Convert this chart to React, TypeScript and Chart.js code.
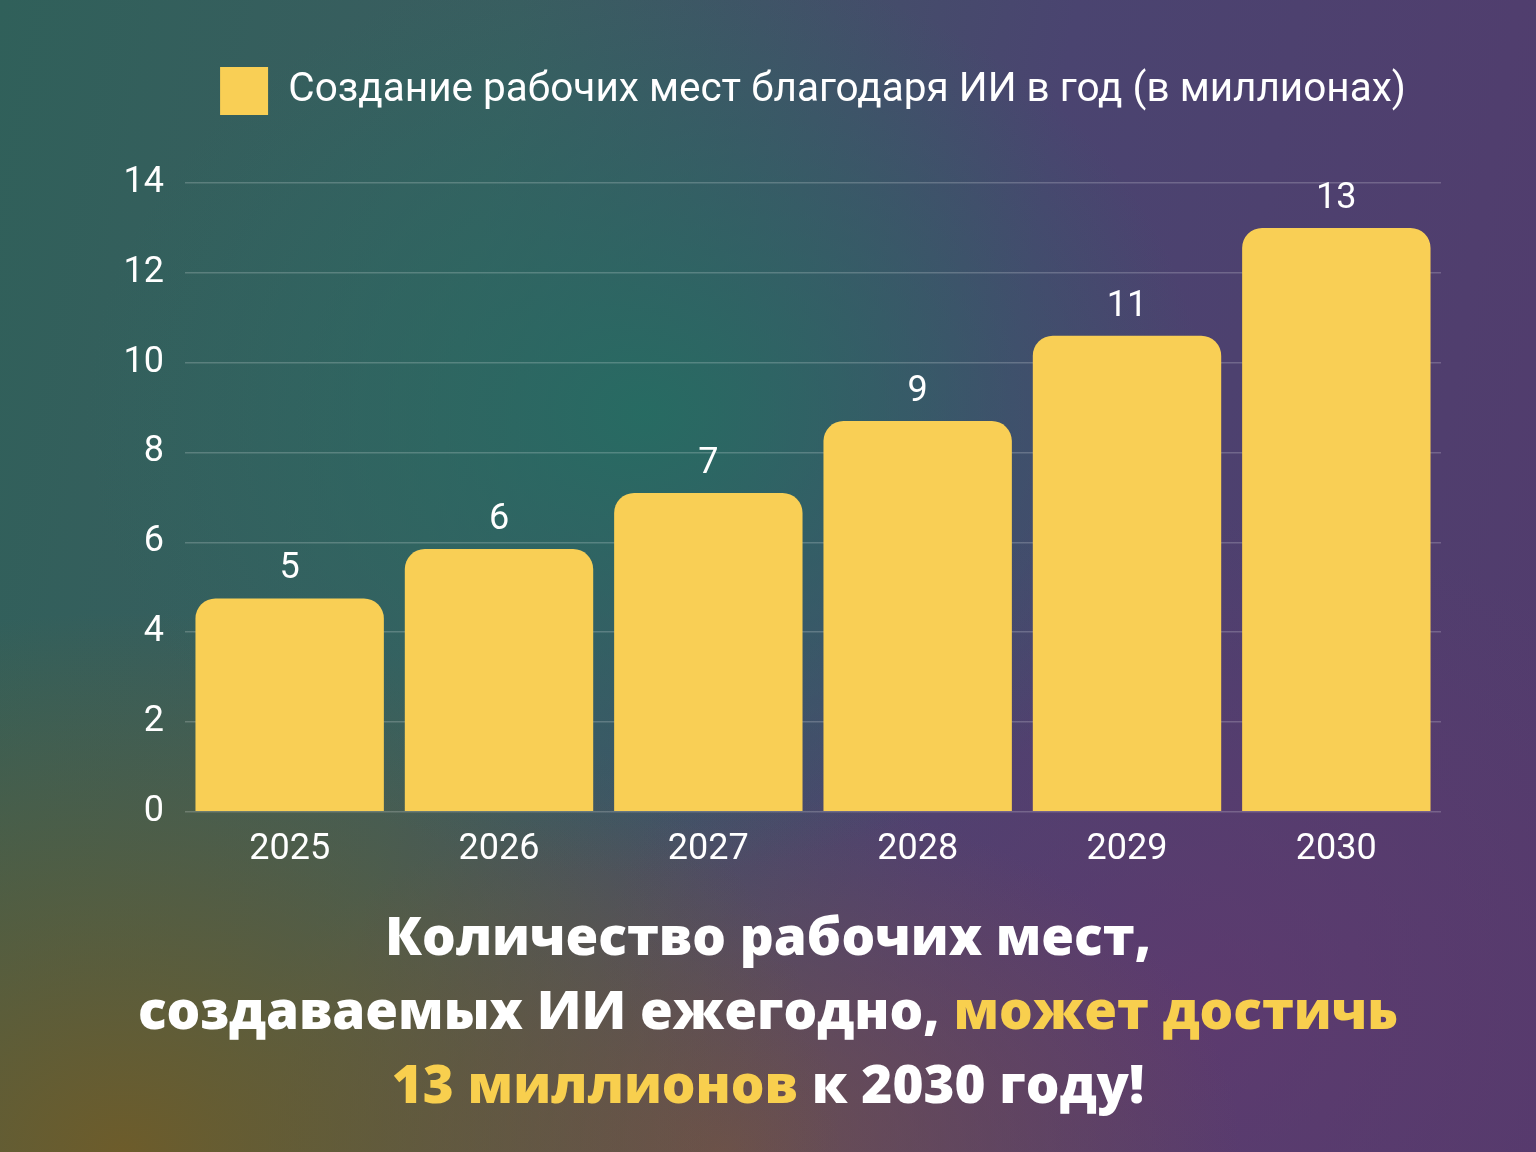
import { useEffect, useRef } from "react"
import { Chart, registerables, type ChartConfiguration, type Plugin } from "chart.js"

Chart.register(...registerables)

const years = ["2025", "2026", "2027", "2028", "2029", "2030"]
// bar heights as drawn (millions), the labels above them are rounded
const jobsCreated = [4.75, 5.85, 7.1, 8.7, 10.6, 13.0]
const barLabels = ["5", "6", "7", "9", "11", "13"]
const yTicks = [0, 2, 4, 6, 8, 10, 12, 14]

const YELLOW = "#F9CF55"
const FONT = "Roboto, 'Noto Sans', sans-serif"

// draws the value labels above each bar
const barLabelPlugin: Plugin<"bar"> = {
  id: "barLabels",
  afterDatasetsDraw(chart) {
    const { ctx } = chart
    const meta = chart.getDatasetMeta(0)
    ctx.save()
    ctx.fillStyle = "#ffffff"
    ctx.font = `400 36px ${FONT}`
    ctx.textAlign = "center"
    ctx.textBaseline = "middle"
    meta.data.forEach((bar, i) => {
      ctx.fillText(barLabels[i], bar.x, bar.y - 29)
    })
    ctx.restore()
  },
}

// gives the legend a fixed height so the plot starts where it should
const legendHeightPlugin: Plugin<"bar"> = {
  id: "legendHeight",
  beforeInit(chart: any) {
    const legend = chart.legend
    if (!legend) return
    const origFit = legend.fit
    legend.fit = function () {
      origFit.call(this)
      this.height = 126
    }
  },
}

export default function App() {
  const chartRef = useRef<HTMLCanvasElement>(null)
  const chartInstance = useRef<Chart | null>(null)

  useEffect(() => {
    if (!chartRef.current) return
    const ctx = chartRef.current.getContext("2d")
    if (!ctx) return

    if (chartInstance.current) {
      chartInstance.current.destroy()
    }

    const config: ChartConfiguration<"bar"> = {
      type: "bar",
      data: {
        labels: years,
        datasets: [
          {
            label: "Создание рабочих мест благодаря ИИ в год (в миллионах)",
            data: jobsCreated,
            backgroundColor: YELLOW,
            borderWidth: 0,
            borderRadius: { topLeft: 20, topRight: 20, bottomLeft: 0, bottomRight: 0 },
            borderSkipped: false,
            categoryPercentage: 1,
            barPercentage: 0.9,
          },
        ],
      },
      options: {
        responsive: false,
        animation: false,
        devicePixelRatio: 1,
        layout: {
          padding: { top: 57, left: 0, right: 95, bottom: 10 },
        },
        scales: {
          y: {
            min: 0,
            max: 14,
            afterFit: (scale) => {
              scale.width = 185
            },
            afterBuildTicks: (scale) => {
              scale.ticks = yTicks.map((v) => ({ value: v }))
            },
            border: { display: false },
            grid: {
              color: "rgba(255, 255, 255, 0.2)",
              lineWidth: 1.5,
              drawTicks: false,
            },
            ticks: {
              color: "#ffffff",
              padding: 21,
              font: { family: FONT, size: 36, weight: 400 },
            },
          },
          x: {
            border: { display: false },
            grid: { display: false },
            ticks: {
              color: "#ffffff",
              padding: 9,
              font: { family: FONT, size: 36, weight: 400 },
            },
          },
        },
        plugins: {
          legend: {
            position: "top",
            fullSize: false,
            labels: {
              color: "#ffffff",
              boxWidth: 48,
              boxHeight: 48,
              padding: 10,
              font: { family: FONT, size: 40.5, weight: 400 },
            },
          },
          tooltip: { enabled: false },
        },
      },
      plugins: [barLabelPlugin, legendHeightPlugin],
    }

    chartInstance.current = new Chart(ctx, config)

    return () => {
      if (chartInstance.current) {
        chartInstance.current.destroy()
        chartInstance.current = null
      }
    }
  }, [])

  const headline: React.CSSProperties = {
    position: "absolute",
    left: 0,
    top: 898,
    width: 1536,
    textAlign: "center",
    fontFamily: "'Open Sans', sans-serif",
    fontWeight: 800,
    fontSize: 53,
    lineHeight: "74px",
    color: "#ffffff",
  }
  const hl = { color: "#F8CF4E" }

  return (
    <div
      style={{
        position: "absolute",
        left: 0,
        top: 0,
        width: 1536,
        height: 1152,
        overflow: "hidden",
        background: [
          "radial-gradient(ellipse 560px 460px at 42% 36%, rgba(38,108,98,0.95) 0%, rgba(38,108,98,0) 100%)",
          "radial-gradient(ellipse 720px 540px at 8% 100%, rgba(112,92,40,0.95) 0%, rgba(112,92,40,0) 100%)",
          "radial-gradient(ellipse 520px 360px at 47% 100%, rgba(118,82,70,0.75) 0%, rgba(118,82,70,0) 100%)",
          "radial-gradient(ellipse 600px 500px at 78% 88%, rgba(98,56,110,0.7) 0%, rgba(98,56,110,0) 100%)",
          "linear-gradient(100deg, #30605a 0%, #3a5d60 30%, #4a4470 62%, #533b6d 100%)",
        ].join(", "),
      }}
    >
      <canvas ref={chartRef} width={1536} height={891} style={{ display: "block" }} />
      <div style={headline}>
        <div>Количество рабочих мест,</div>
        <div>
          создаваемых ИИ ежегодно, <span style={hl}>может достичь</span>
        </div>
        <div>
          <span style={hl}>13 миллионов</span> к 2030 году!
        </div>
      </div>
    </div>
  )
}
